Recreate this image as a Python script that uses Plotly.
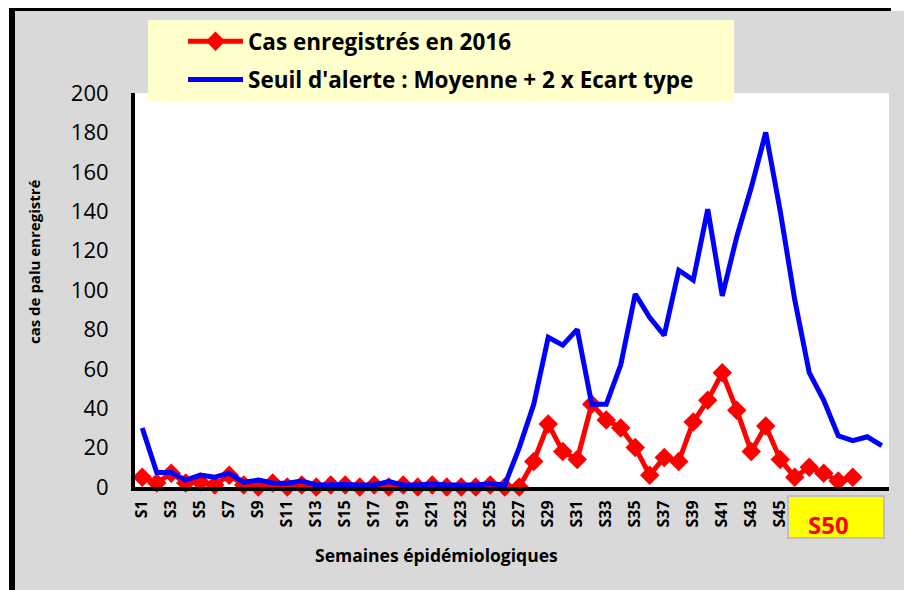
import plotly.graph_objects as go

weeks = [f"S{i}" for i in range(1, 53)]

cases_2016 = [5, 2, 7, 2, 2.5, 1, 6, 1, 0, 2,
              0, 1, 0, 1, 1, 0, 1, 0, 1, 0,
              1, 0, 0, 0, 1, 0, 0, 13, 32, 18,
              14, 42, 34, 30, 20, 6, 15, 13, 33, 44,
              58, 39, 18, 31, 14, 5, 10, 7, 3, 5,
              None, None]

alert_threshold = [30, 7.3, 7.3, 3.5, 6, 5, 7, 2.4, 3.5, 2,
                   1.9, 3, 1, 1.4, 1.3, 1, 1, 2.7, 1, 1,
                   1.5, 1, 1, 1, 1.7, 1, 20, 42, 76, 72,
                   80, 42, 42, 62, 98, 86, 77, 110, 105, 141,
                   97, 127, 152, 180, 140, 95, 58, 44, 26, 23.5,
                   25.5, 21]

tick_labels = [f"S{i}" for i in range(1, 46, 2)]
y_ticks = list(range(0, 201, 20))

# page body has an 8px margin: build the figure in coordinates shifted by 8px
OFF = 8
W, H = 912 - OFF, 590 - OFF
L = 135 - OFF
T = 93 - OFF
R = W - (889 - OFF)
B = H - (487 - OFF)
PW, PH = W - L - R, H - T - B


def px(x):
    return (x - OFF - L) / PW


def py(y):
    return (H - B - (y - OFF)) / PH


FONT = "Open Sans"

fig = go.Figure()
fig.add_trace(go.Scatter(
    x=weeks, y=cases_2016, mode="lines+markers",
    name="Cas enregistrés en 2016", legendgroup="a",
    line=dict(color="#FF0000", width=5),
    marker=dict(symbol="diamond", size=15, color="#FF0000"),
    cliponaxis=False, connectgaps=False,
))
fig.add_trace(go.Scatter(
    x=weeks, y=alert_threshold, mode="lines",
    name="Seuil d'alerte : Moyenne + 2 x Ecart type", legendgroup="b",
    line=dict(color="#0000FF", width=5),
    cliponaxis=False,
))


def rect(x0, x1, y0, y1, fill, layer="below", line=None):
    return dict(type="rect", xref="paper", yref="paper",
                x0=px(x0), x1=px(x1), y0=py(y0), y1=py(y1),
                fillcolor=fill, line=line or dict(width=0), layer=layer)


shapes = [
    rect(0, 912, 0, 11, "white"),
    rect(0, 9, 0, 590, "white"),
    rect(35, 891, 0, 11, "black"),
    rect(154, 306, 0, 5, "white"),
    rect(9, 891, 5, 11, "black"),
    rect(9, 15, 5, 590, "black"),
    # legend box
    rect(148, 734, 20, 101, "#FFFFCC", layer="above"),
    # S50 box
    rect(788, 884, 496, 538, "#FFFF00", layer="above", line=dict(color="#BFBFBF", width=2)),
]

annotations = [
    dict(text="cas de palu enregistré", x=px(34), y=py(262), xref="paper", yref="paper",
         xanchor="center", yanchor="middle",
         textangle=-90, showarrow=False, font=dict(family=FONT, size=15, color="black", weight="bold")),
    dict(text="Semaines épidémiologiques", x=px(436), y=py(555), xref="paper", yref="paper",
         xanchor="center", yanchor="middle",
         showarrow=False, font=dict(family=FONT, size=17.5, color="black", weight="bold")),
    dict(text="S50", x=px(828), y=py(524), xref="paper", yref="paper",
         xanchor="center", yanchor="middle",
         showarrow=False, font=dict(family=FONT, size=24, color="#FF0000", weight="bold")),
]

fig.update_layout(
    width=W, height=H,
    margin=dict(l=L, r=R, t=T, b=B, pad=0, autoexpand=False),
    paper_bgcolor="#D9D9D9",
    plot_bgcolor="white",
    shapes=shapes,
    annotations=annotations,
    showlegend=True,
    legend=dict(
        x=px(183), y=py(20), xanchor="left", yanchor="top",
        bgcolor="rgba(0,0,0,0)", borderwidth=0,
        font=dict(family=FONT, size=22.5, color="black", weight="bold"),
        itemwidth=55, tracegroupgap=6, traceorder="grouped",
    ),
    xaxis=dict(
        type="category", range=[-0.5, 51.5],
        tickmode="array", tickvals=tick_labels, ticktext=tick_labels,
        tickangle=-90, ticks="", ticklabelstandoff=3,
        tickfont=dict(family=FONT, size=16, color="black", weight="bold"),
        showline=True, linewidth=4, linecolor="black", showgrid=False, zeroline=False,
    ),
    yaxis=dict(
        range=[0, 200], tickmode="array", tickvals=y_ticks,
        ticks="", ticklabelstandoff=18,
        tickfont=dict(family=FONT, size=22, color="black"),
        showline=True, linewidth=4, linecolor="black", showgrid=False, zeroline=False,
    ),
)

fig.write_html("out.html")
